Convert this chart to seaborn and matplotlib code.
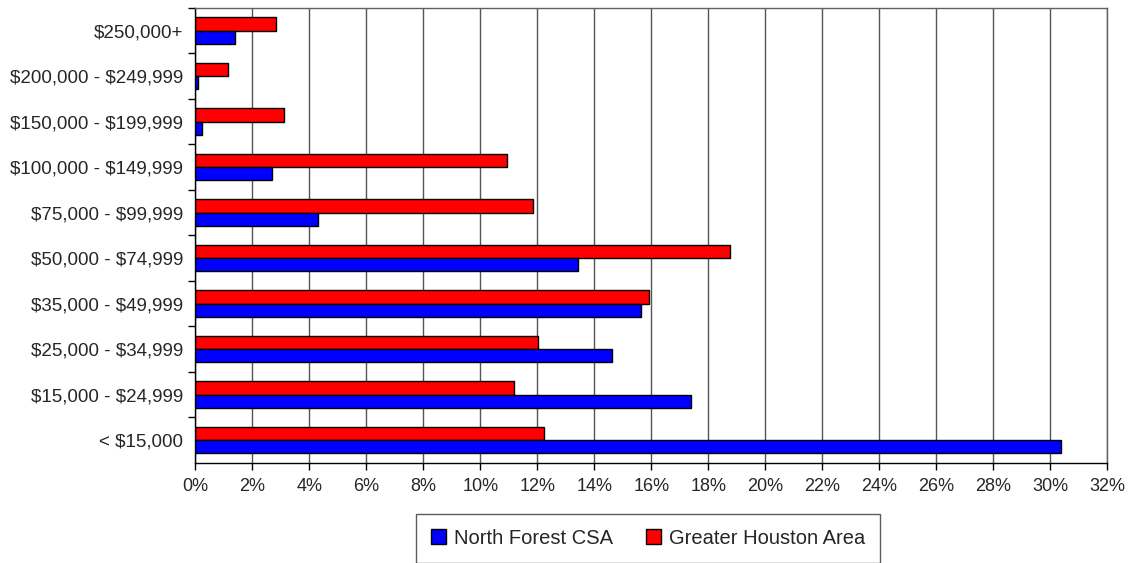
import numpy as np
import pandas as pd
import matplotlib
matplotlib.use("Agg")
import matplotlib.pyplot as plt
import matplotlib.patches as mpatches
import seaborn as sns

brackets = ["$250,000+", "$200,000 - $249,999", "$150,000 - $199,999",
            "$100,000 - $149,999", "$75,000 - $99,999", "$50,000 - $74,999",
            "$35,000 - $49,999", "$25,000 - $34,999", "$15,000 - $24,999",
            "< $15,000"]
north_forest = [1.38, 0.10, 0.22, 2.70, 4.30, 13.42, 15.63, 14.63, 17.38, 30.40]
greater_houston = [2.83, 1.16, 3.10, 10.93, 11.86, 18.76, 15.94, 12.03, 11.20, 12.24]

series = ["North Forest CSA", "Greater Houston Area"]
colors = {"North Forest CSA": "#0000FF", "Greater Houston Area": "#FF0000"}

df = pd.concat([
    pd.DataFrame({"bracket": brackets, "pct": north_forest, "area": series[0]}),
    pd.DataFrame({"bracket": brackets, "pct": greater_houston, "area": series[1]}),
])

sns.set_style("white")
plt.rcParams["font.family"] = ["Liberation Sans", "DejaVu Sans"]

fig = plt.figure(figsize=(11.35, 5.63), dpi=100)
ax = fig.add_axes([0.1722, 0.178, 0.8031, 0.8082])

# red first so it sits above the blue bar in each pair
sns.barplot(data=df, y="bracket", x="pct", hue="area",
            hue_order=[series[1], series[0]], order=brackets,
            palette=colors, orient="h", width=0.59, saturation=1,
            edgecolor="black", linewidth=1, legend=False, ax=ax)

ax.set_xlim(0, 32)
ax.set_ylim(len(brackets) - 0.5, -0.5)
ax.set_xticks(np.arange(0, 33, 2))
ax.set_xticklabels([f"{v}%" for v in range(0, 33, 2)], fontsize=13)
ax.xaxis.grid(True, color="#555555", linewidth=1)
ax.set_axisbelow(True)

# category labels centred, tick marks between categories
ax.set_yticks(np.arange(len(brackets)) - 0.5, minor=False)
ax.set_yticklabels([""] * len(brackets))
ax.set_yticks(np.arange(len(brackets)), minor=True)
ax.set_yticklabels([b.replace("$", r"\$") for b in brackets], minor=True, fontsize=13.5)
ax.tick_params(axis="y", which="minor", length=0, pad=9)
ax.tick_params(axis="y", which="major", length=5, width=1, color="black", direction="out", left=True)
ax.tick_params(axis="x", length=5, width=1, color="black", direction="out", bottom=True, pad=6)
ax.set_xlabel("")
ax.set_ylabel("")

for side in ["left", "bottom"]:
    ax.spines[side].set_color("black")
    ax.spines[side].set_linewidth(1)
for side in ["top", "right"]:
    ax.spines[side].set_color("#606060")
    ax.spines[side].set_linewidth(1)

handles = [mpatches.Patch(facecolor=colors[s], edgecolor="black", linewidth=1, label=s)
           for s in series]
leg = fig.legend(handles=handles, loc="center", bbox_to_anchor=(0.571, 0.044),
                 ncol=2, fontsize=14.5, frameon=True, fancybox=False,
                 handlelength=0.75, handleheight=0.75, handletextpad=0.4,
                 columnspacing=1.6, borderpad=0.75, borderaxespad=0)
leg.get_frame().set_edgecolor("#333333")
leg.get_frame().set_linewidth(1)

fig.savefig("out.png", dpi=100)
